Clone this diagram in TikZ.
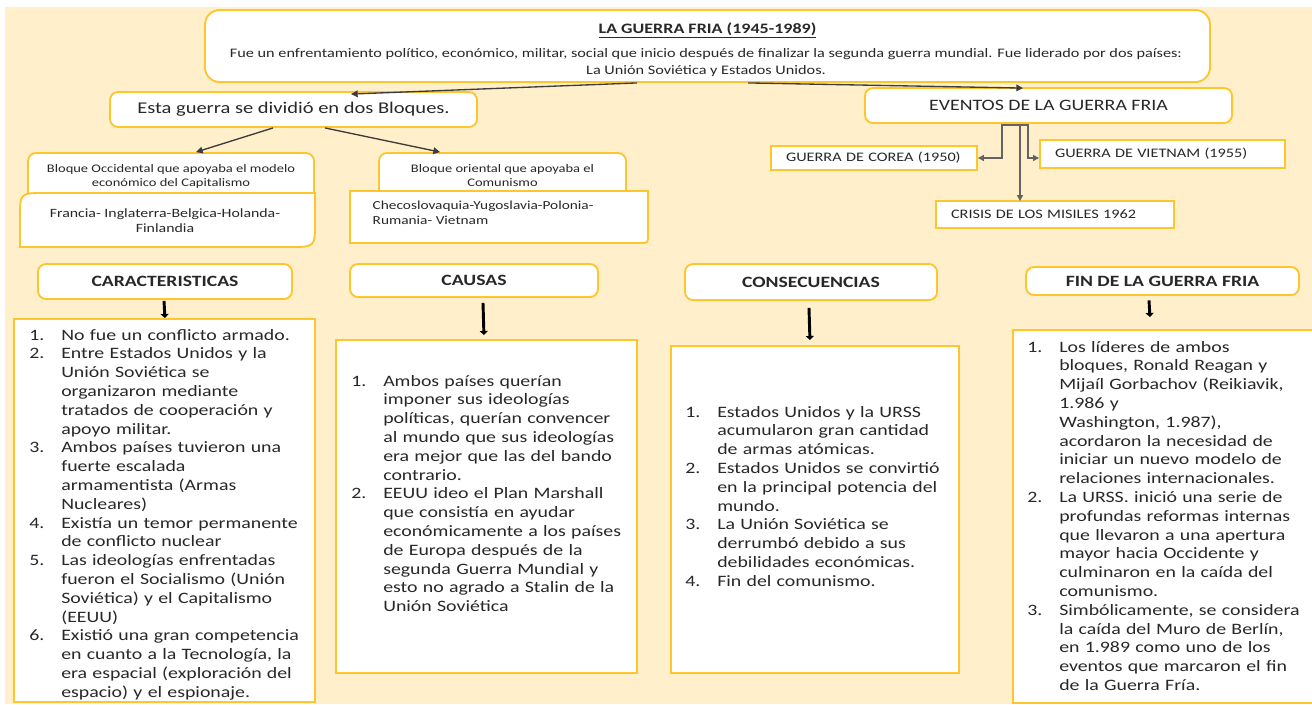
\documentclass[tikz,border=0pt]{standalone}
\usepackage{fontspec}
\setmainfont{Carlito}[FakeStretch=1.25]
\usetikzlibrary{arrows.meta}
\definecolor{bgyellow}{RGB}{255,240,203}
\definecolor{boxgold}{RGB}{255,197,45}
\definecolor{inkgray}{RGB}{40,40,40}
\definecolor{linegray}{RGB}{60,60,60}
\setlength\parskip{0pt}
\newlength\numwd
\setlength\numwd{24pt}
\newcommand\numitem[2]{\par\hangindent=\numwd\hangafter=1\noindent\makebox[\numwd][l]{\strut#1.}#2\par}
\tikzset{
  frame/.style={draw=boxgold, line width=1.4pt, fill=white},
  roundbox/.style={frame, rounded corners=6pt, inner sep=0pt},
  squarebox/.style={frame, inner sep=0pt},
  headbox/.style={roundbox, font=\fontsize{11.8}{14}\selectfont\bfseries},
  eventbox/.style={squarebox, inner xsep=11.25pt, align=left, font=\fontsize{9.75}{12}\selectfont},
  listtext/.style={anchor=north west, inner sep=0pt, text width=260pt, align=left, font=\fontsize{11.9}{14.1}\selectfont},
  thinarrow/.style={draw=linegray, line width=1pt, -{Triangle[length=5pt,width=5pt]}},
  evarrow/.style={draw=linegray!80, line width=0.9pt, -{Triangle[length=4.5pt,width=4.5pt]}},
  boldarrow/.style={draw=black, line width=2.2pt, -{Triangle[length=3pt,width=6pt]}},
}
\begin{document}
\begin{tikzpicture}[x=0.75pt, y=-0.75pt, every node/.append style={text=inkgray}]
\useasboundingbox (0,0) rectangle (1312,704);
\fill[white] (0,0) rectangle (1312,704);
\fill[bgyellow] (5,7) rectangle (1312,704);

\node[frame, rounded corners=11pt, minimum width=753.75pt, minimum height=54pt] (guerra) at (707.5,46) {};
\node[anchor=base, font=\fontsize{10.8}{13}\selectfont\bfseries] (titulo) at (707.5,33) {\underline{LA GUERRA FRIA (1945-1989)}};
\node[align=center, font=\fontsize{9.75}{12.75}\selectfont] (resumen) at (706,63) {Fue un enfrentamiento político, económico, militar, social que inicio después de finalizar la segunda guerra mundial. Fue liderado por dos países:\\La Unión Soviética y Estados Unidos.};

\node[roundbox, minimum width=275.25pt, minimum height=26.25pt, font=\fontsize{12.3}{14}\selectfont] (division) at (293.5,109.5) {Esta guerra se dividió en dos Bloques.};
\node[roundbox, minimum width=275.25pt, minimum height=26.25pt, font=\fontsize{11.9}{14}\selectfont] (eventos) at (1048.5,105.5) {EVENTOS DE LA GUERRA FRIA};

\draw[thinarrow] ([shift={(-70.5,0)}]guerra.south) -- ([shift={(57.5,3)}]division.north);
\draw[thinarrow] ([shift={(40.5,0)}]guerra.south) -- ([shift={(-25.5,1)}]eventos.north);

\node[roundbox, minimum width=214.5pt, minimum height=35.25pt, align=center, font=\fontsize{8.7}{10.5}\selectfont] (occidente) at (171,176.5) {Bloque Occidental que apoyaba el modelo\\económico del Capitalismo};
\node[roundbox, minimum width=185.25pt, minimum height=33.75pt, align=center, font=\fontsize{8.7}{10.5}\selectfont] (oriente) at (502.5,175.5) {Bloque oriental que apoyaba el\\Comunismo};

\draw[thinarrow] ([shift={(-20.5,0)}]division.south) -- ([shift={(25,0)}]occidente.north);
\draw[thinarrow] ([shift={(31.5,0)}]division.south) -- ([shift={(-62.5,0)}]oriente.north);

\filldraw[frame] (20,247) -- (20,218) .. controls (20,193) .. (45,193) -- (315,193) -- (315,222) .. controls (315,247) .. (290,247) -- cycle;
\filldraw[frame] (350,191) -- (648,191) -- (648,235) .. controls (648,243) .. (640,243) -- (350,243) -- cycle;
\node[align=center, font=\fontsize{9.5}{11.25}\selectfont] (paisesocc) at (165,220.5) {Francia- Inglaterra-Belgica-Holanda-\\Finlandia};
\node[anchor=west, align=left, font=\fontsize{9.2}{11.25}\selectfont] (paisesori) at (368,212.5) {Checoslovaquia-Yugoslavia-Polonia-\\Rumania- Vietnam};

\node[eventbox, minimum width=154.5pt, minimum height=18pt, text width=132pt] (corea) at (874,158) {GUERRA DE COREA (1950)};
\node[eventbox, minimum width=183.75pt, minimum height=21pt, text width=161.25pt] (vietnam) at (1162.5,154) {GUERRA DE VIETNAM (1955)};
\node[eventbox, minimum width=178.5pt, minimum height=20.25pt, text width=156pt] (misiles) at (1055,214.5) {CRISIS DE LOS MISILES 1962};

\draw[evarrow] ([shift={(-28.5,1)}]eventos.south) -- ++(-18,0) |- (corea.east);
\draw[evarrow] ([shift={(-28.5,1)}]eventos.south) -- ++(8,0) |- ([shift={(0,4)}]vietnam.west);
\draw[evarrow] ([shift={(-28.5,1)}]eventos.south) -- ([shift={(-28.5,1)}]eventos.south |- misiles.north);

\node[headbox, minimum width=190.5pt, minimum height=26.25pt] (caract) at (165,281.5) {CARACTERISTICAS};
\node[headbox, minimum width=186pt, minimum height=24.75pt] (causas) at (474,280.5) {CAUSAS};
\node[headbox, minimum width=189pt, minimum height=27pt] (consec) at (811,282) {CONSECUENCIAS};
\node[headbox, minimum width=204.75pt, minimum height=21pt] (fin) at (1162.5,281) {FIN DE LA GUERRA FRIA};

\node[squarebox, anchor=north west, minimum width=225.75pt, minimum height=287.25pt] (caractbox) at (13,318) {};
\node[squarebox, anchor=north west, minimum width=225.75pt, minimum height=249.75pt] (causasbox) at (335,339) {};
\node[squarebox, anchor=north west, minimum width=216pt, minimum height=245.25pt] (consecbox) at (670,345) {};
\node[squarebox, anchor=north west, minimum width=231pt, minimum height=279.75pt] (finbox) at (1012,329) {};

\draw[boldarrow] ([shift={(-1,1)}]caract.south) -- ([shift={(0.5,0)}]caractbox.north);
\draw[boldarrow] ([shift={(9,5)}]causas.south) -- ([shift={(-2.5,-4)}]causasbox.north);
\draw[boldarrow] ([shift={(-2,7)}]consec.south) -- ([shift={(-5,-5)}]consecbox.north);
\draw[boldarrow] ([shift={(-13.5,4.5)}]fin.south) -- ([shift={(-17,-12)}]finbox.north);

\node[listtext] (caractlist) at (29,321) {%
\numitem{1}{No fue un conflicto armado.}%
\numitem{2}{Entre Estados Unidos y la\newline Unión Soviética se\newline organizaron mediante\newline tratados de cooperación y\newline apoyo militar.}%
\numitem{3}{Ambos países tuvieron una\newline fuerte escalada\newline armamentista (Armas\newline Nucleares)}%
\numitem{4}{Existía un temor permanente\newline de conflicto nuclear}%
\numitem{5}{Las ideologías enfrentadas\newline fueron el Socialismo (Unión\newline Soviética) y el Capitalismo\newline (EEUU)}%
\numitem{6}{Existió una gran competencia\newline en cuanto a la Tecnología, la\newline era espacial (exploración del\newline espacio) y el espionaje.}};

\node[listtext] (causaslist) at (351,367) {%
\numitem{1}{Ambos países querían\newline imponer sus ideologías\newline políticas, querían convencer\newline al mundo que sus ideologías\newline era mejor que las del bando\newline contrario.}%
\numitem{2}{EEUU ideo el Plan Marshall\newline que consistía en ayudar\newline económicamente a los países\newline de Europa después de la\newline segunda Guerra Mundial y\newline esto no agrado a Stalin de la\newline Unión Soviética}};

\node[listtext] (consecabox) at (685,398) {%
\numitem{1}{Estados Unidos y la URSS\newline acumularon gran cantidad\newline de armas atómicas.}%
\numitem{2}{Estados Unidos se convirtió\newline en la principal potencia del\newline mundo.}%
\numitem{3}{La Unión Soviética se\newline derrumbó debido a sus\newline debilidades económicas.}%
\numitem{4}{Fin del comunismo.}};

\node[listtext] (finlist) at (1027,333) {%
\numitem{1}{Los líderes de ambos\newline bloques, Ronald Reagan y\newline Mijaíl Gorbachov (Reikiavik,\newline 1.986 y\newline Washington, 1.987),\newline acordaron la necesidad de\newline iniciar un nuevo modelo de\newline relaciones internacionales.}%
\numitem{2}{La URSS. inició una serie de\newline profundas reformas internas\newline que llevaron a una apertura\newline mayor hacia Occidente y\newline culminaron en la caída del\newline comunismo.}%
\numitem{3}{Simbólicamente, se considera\newline la caída del Muro de Berlín,\newline en 1.989 como uno de los\newline eventos que marcaron el fin\newline de la Guerra Fría.}};
\end{tikzpicture}
\end{document}
